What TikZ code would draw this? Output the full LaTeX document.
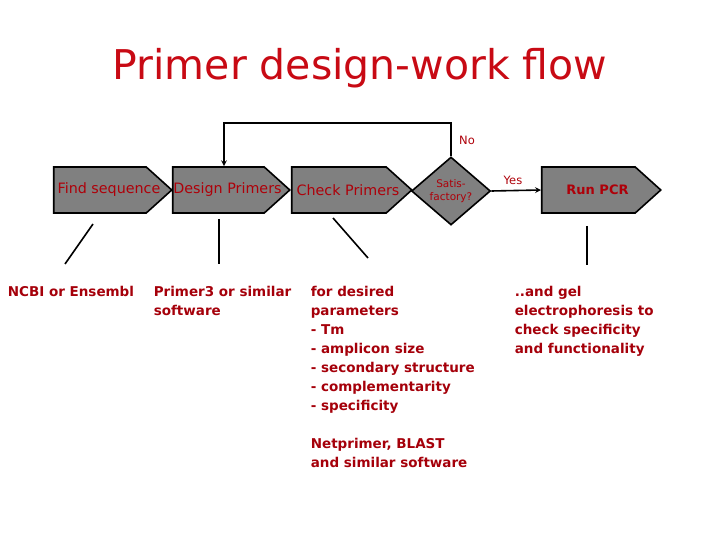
\documentclass[tikz,border=0pt]{standalone}
\usepackage{fontspec}
\setmainfont{DejaVu Sans}
\usetikzlibrary{shapes.symbols,shapes.geometric}
\definecolor{titlered}{RGB}{200,10,20}
\definecolor{textred}{RGB}{165,0,10}
\definecolor{boxgray}{RGB}{128,128,128}
\newcommand{\stagelabel}[1]{\makebox[0pt]{\hspace{18pt}#1}}
\tikzset{
	stage/.style={
		shape = signal,
		signal to = east,
		signal pointer angle = 84,
		draw,
		line width = 1.6pt,
		fill = boxgray,
		minimum height = 46pt,
		inner sep = 0pt,
		text = textred!90!red,
		font = \fontsize{14.3}{16}\selectfont
	},
	decide/.style={
		shape = diamond,
		draw,
		line width = 1.6pt,
		fill = boxgray,
		minimum width = 79pt,
		minimum height = 68pt,
		inner sep = 0pt,
		text = textred!90!red,
		align = center,
		font = \fontsize{10.5}{13}\selectfont
	},
	note/.style={
		anchor = north west,
		inner sep = 0pt,
		align = left,
		text = textred,
		font = \bfseries\fontsize{13.5}{19}\selectfont
	},
}
\tikzset{>=stealth}

\begin{document}
\begin{tikzpicture}[x=1pt, y=-1pt, line width=1.6pt]
    \useasboundingbox (0,0) rectangle (720,540);
    \node[text=titlered, font=\fontsize{41}{44}\selectfont] (title) at (360,68) {Primer design-work flow};
    \node[stage, minimum width=118pt] (find) at (100,190) {\stagelabel{Find sequence}};
    \node[stage, minimum width=117pt] (design) at (218.5,190) {\stagelabel{Design Primers}};
    \node[stage, minimum width=120pt] (check) at (339,190) {\stagelabel{Check Primers}};
    \node[decide] (sat) at (451,191) {Satis-\\factory?};
    \node[stage, minimum width=119pt, font=\bfseries\fontsize{13}{15}\selectfont] (pcr) at (588.5,190) {\stagelabel{Run PCR}};
    \coordinate (back) at (224,123);
    \draw[->] (sat.north) |- (back) -- (back |- design.north);
    \draw[->] (sat.east) -- (pcr.west);
    \node[text=textred!90!red, font=\fontsize{11.5}{13}\selectfont] (no) at (467,140) {No};
    \node[text=textred!90!red, font=\fontsize{11.5}{13}\selectfont] (yes) at (513,180) {Yes};
    \foreach \a/\b [count=\i] in {{93,224}/{65,264}, {219,219}/{219,264}, {333,218}/{368,258}, {587,226}/{587,265}}{
      \coordinate (top\i) at (\a);
      \coordinate (bot\i) at (\b);
      \draw (top\i) -- (bot\i);
    }
    \node[note] (ncbi) at (7,285) {NCBI or Ensembl};
    \node[note] (primer3) at (153,285) {Primer3 or similar\\software};
    \node[note] (params) at (310,285) {for desired\\parameters\\- Tm\\- amplicon size\\- secondary structure\\- complementarity\\- specificity};
    \node[note] (blast) at (310,437) {Netprimer, BLAST\\and similar software};
    \node[note] (gel) at (514,285) {..and gel\\electrophoresis to\\check specificity\\and functionality};
  \end{tikzpicture}
\end{document}
